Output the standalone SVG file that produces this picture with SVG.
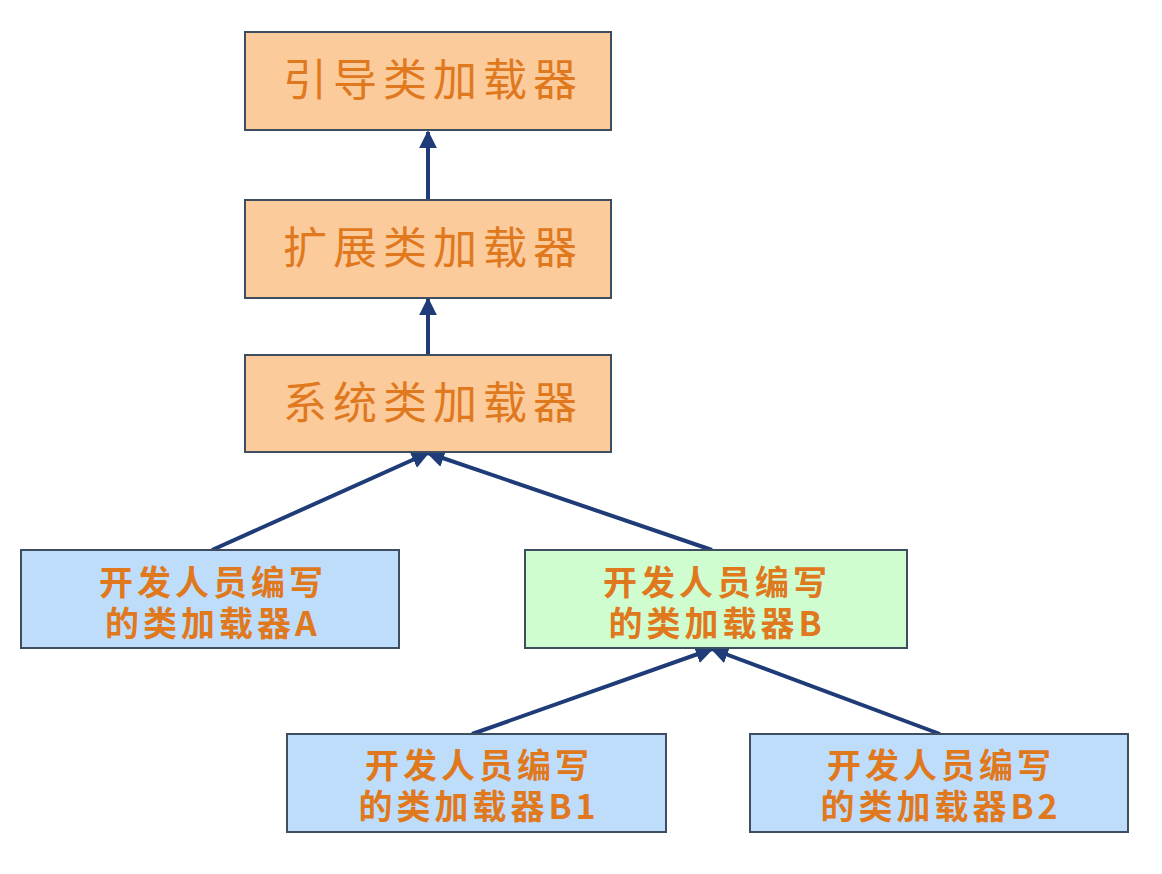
<svg xmlns="http://www.w3.org/2000/svg" width="1162" height="874" viewBox="0 0 1162 874">
<defs>
<marker id="ah" viewBox="0 0 10 10" refX="9" refY="5" markerWidth="4.5" markerHeight="4.5" orient="auto" markerUnits="strokeWidth">
<path d="M0,0 L10,5 L0,10 z" fill="#1F3C78"/>
</marker>
</defs>
<style>
.box{stroke:#3E4E60;stroke-width:2}
.or{fill:#FCCB9C}
.bl{fill:#BEDDFB}
.gr{fill:#CFFDCF}
.big{font-family:"Noto Sans CJK SC","Noto Sans",sans-serif;font-size:44px;fill:#E0781E;text-anchor:middle;letter-spacing:6px}
.sm{font-family:"Noto Sans CJK SC","Noto Sans",sans-serif;font-size:34px;font-weight:bold;fill:#E0781E;text-anchor:middle;letter-spacing:4px}
.ln{stroke:#1F3C78;stroke-width:4;fill:none;marker-end:url(#ah)}
</style>
<rect width="1162" height="874" fill="#FFFFFF"/>
<g id="connectors">
<line class="ln" x1="428" y1="200" x2="428" y2="132"/>
<line class="ln" x1="428" y1="355" x2="428" y2="299"/>
<line class="ln" x1="212" y1="550" x2="428" y2="453"/>
<line class="ln" x1="712" y1="550" x2="428" y2="453"/>
<line class="ln" x1="472" y1="734" x2="712" y2="649"/>
<line class="ln" x1="940" y1="734" x2="712" y2="649"/>
</g>
<g id="bootstrap">
<rect class="box or" x="245" y="32" width="366" height="98"/>
<text class="big" x="433" y="96">引导类加载器</text>
</g>
<g id="extension">
<rect class="box or" x="245" y="200" width="366" height="98"/>
<text class="big" x="433" y="264">扩展类加载器</text>
</g>
<g id="system">
<rect class="box or" x="245" y="355" width="366" height="97"/>
<text class="big" x="433" y="419">系统类加载器</text>
</g>
<g id="loaderA">
<rect class="box bl" x="21" y="550" width="378" height="98"/>
<text class="sm" x="213" y="595">开发人员编写</text>
<text class="sm" x="213" y="636">的类加载器A</text>
</g>
<g id="loaderB">
<rect class="box gr" x="525" y="550" width="382" height="98"/>
<text class="sm" x="717" y="595">开发人员编写</text>
<text class="sm" x="717" y="636">的类加载器B</text>
</g>
<g id="loaderB1">
<rect class="box bl" x="287" y="734" width="379" height="98"/>
<text class="sm" x="479" y="778">开发人员编写</text>
<text class="sm" x="479" y="819">的类加载器B1</text>
</g>
<g id="loaderB2">
<rect class="box bl" x="750" y="734" width="378" height="98"/>
<text class="sm" x="941" y="778">开发人员编写</text>
<text class="sm" x="941" y="819">的类加载器B2</text>
</g>
</svg>
